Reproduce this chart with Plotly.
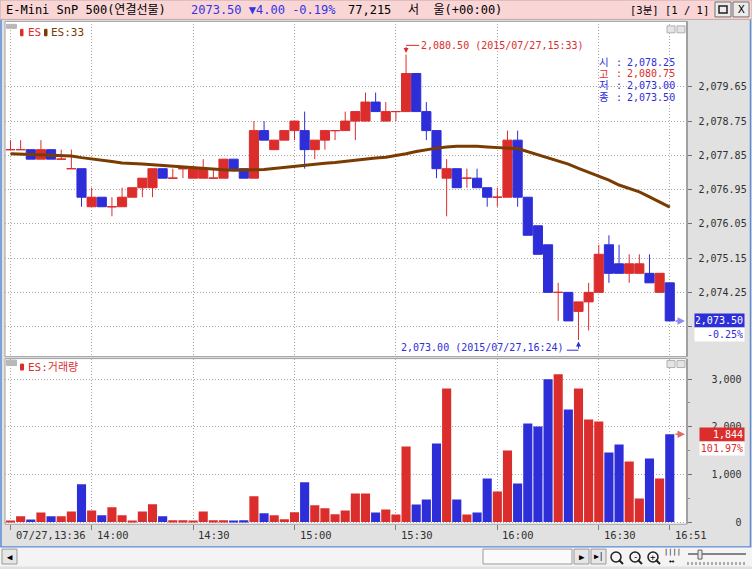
import plotly.graph_objects as go

W, H = 752, 569

# ---- 3분봉 데이터 ----
tick_idx = [0, 8, 18, 28, 38, 48, 58, 65]
tick_text = ["07/27,13:36", "14:00", "14:30", "15:00", "15:30", "16:00", "16:30", "16:51"]

opens = [2078.00, 2078.00, 2078.00, 2077.75, 2078.00, 2077.75, 2077.50, 2077.50, 2076.50, 2076.75,
         2076.50, 2076.50, 2076.75, 2077.00, 2077.00, 2077.50, 2077.25, 2077.50, 2077.25, 2077.25,
         2077.25, 2077.25, 2077.75, 2077.50, 2077.25, 2078.50, 2078.00, 2078.25, 2078.50, 2078.50,
         2078.00, 2078.25, 2078.50, 2078.50, 2078.75, 2078.75, 2079.25, 2078.75, 2079.00, 2079.00,
         2080.00, 2079.00, 2078.50, 2077.25, 2077.50, 2077.25, 2077.25, 2077.00, 2076.75, 2076.75,
         2078.25, 2076.75, 2076.00, 2075.50, 2074.25, 2074.25, 2073.75, 2074.00, 2074.25, 2075.50,
         2075.00, 2074.75, 2074.75, 2074.75, 2074.25, 2074.50]
highs = [2078.25, 2078.25, 2078.00, 2078.25, 2078.00, 2078.00, 2078.00, 2077.50, 2077.00, 2076.75,
         2076.75, 2077.00, 2077.00, 2077.25, 2077.50, 2077.50, 2077.50, 2077.50, 2077.50, 2077.75,
         2077.50, 2077.75, 2077.75, 2077.50, 2078.75, 2078.75, 2078.25, 2078.50, 2078.75, 2079.00,
         2078.25, 2078.50, 2078.50, 2079.00, 2079.00, 2079.50, 2079.50, 2079.25, 2079.00, 2080.50,
         2080.00, 2079.25, 2078.50, 2077.75, 2077.50, 2077.50, 2077.50, 2077.00, 2077.00, 2078.50,
         2078.50, 2076.75, 2076.00, 2075.50, 2074.50, 2074.25, 2074.00, 2074.50, 2075.50, 2075.75,
         2075.50, 2075.25, 2075.25, 2075.25, 2074.75, 2074.50]
lows = [2078.00, 2078.00, 2077.75, 2077.75, 2077.75, 2077.75, 2077.50, 2076.50, 2076.50, 2076.50,
        2076.25, 2076.50, 2076.75, 2076.75, 2076.75, 2077.25, 2077.25, 2077.25, 2077.25, 2077.25,
        2077.25, 2077.25, 2077.50, 2077.25, 2077.25, 2078.25, 2078.00, 2078.25, 2078.25, 2077.50,
        2077.75, 2078.00, 2078.25, 2078.50, 2078.25, 2078.75, 2079.00, 2078.75, 2078.75, 2079.00,
        2079.00, 2078.25, 2077.25, 2076.25, 2077.00, 2077.00, 2077.00, 2076.50, 2076.50, 2076.75,
        2076.50, 2075.75, 2075.25, 2074.25, 2073.50, 2073.50, 2073.00, 2073.25, 2074.25, 2074.50,
        2074.75, 2074.50, 2074.75, 2074.50, 2074.25, 2073.50]
closes = [2078.00, 2078.00, 2077.75, 2078.00, 2077.75, 2077.75, 2077.50, 2076.75, 2076.75, 2076.50,
          2076.50, 2076.75, 2077.00, 2077.25, 2077.50, 2077.25, 2077.25, 2077.50, 2077.50, 2077.50,
          2077.25, 2077.75, 2077.50, 2077.25, 2078.50, 2078.25, 2078.25, 2078.50, 2078.75, 2078.00,
          2078.25, 2078.50, 2078.50, 2078.75, 2079.00, 2079.25, 2079.00, 2079.00, 2079.00, 2080.00,
          2079.00, 2078.50, 2077.50, 2077.50, 2077.00, 2077.25, 2077.00, 2076.75, 2076.75, 2078.25,
          2076.75, 2075.75, 2075.25, 2074.25, 2074.25, 2073.50, 2074.00, 2074.25, 2075.25, 2074.75,
          2074.75, 2075.00, 2075.00, 2074.50, 2074.75, 2073.50]
ma33 = [2077.89, 2077.88, 2077.87, 2077.87, 2077.86, 2077.85, 2077.83, 2077.79, 2077.76, 2077.72,
        2077.69, 2077.65, 2077.64, 2077.62, 2077.60, 2077.58, 2077.56, 2077.54, 2077.52, 2077.50,
        2077.48, 2077.47, 2077.46, 2077.46, 2077.47, 2077.48, 2077.51, 2077.53, 2077.56, 2077.59,
        2077.62, 2077.64, 2077.66, 2077.69, 2077.73, 2077.76, 2077.78, 2077.80, 2077.84, 2077.89,
        2077.95, 2078.00, 2078.04, 2078.07, 2078.09, 2078.09, 2078.09, 2078.07, 2078.05, 2078.04,
        2078.03, 2077.95, 2077.86, 2077.78, 2077.71, 2077.62, 2077.51, 2077.41, 2077.32, 2077.20,
        2077.07, 2076.97, 2076.89, 2076.76, 2076.62, 2076.49]
volume = [20, 122, 52, 200, 122, 122, 220, 795, 242, 143,
          312, 143, 17, 220, 375, 122, 38, 38, 17, 220,
          38, 38, 17, 38, 543, 186, 143, 60, 207, 837,
          354, 291, 165, 242, 599, 599, 200, 263, 158, 1586,
          368, 473, 1649, 2805, 473, 158, 200, 914, 641, 1502,
          809, 2069, 2006, 2994, 3099, 2363, 2805, 2153, 2111, 1460,
          1628, 1271, 494, 1334, 914, 1844]

price_ticks = [2073.35, 2074.25, 2075.15, 2076.05, 2076.95, 2077.85, 2078.75, 2079.65]
price_labels = ["", "2,074.25", "2,075.15", "2,076.05", "2,076.95", "2,077.85", "2,078.75", "2,079.65"]
vol_ticks = [0, 1000, 2000, 3000]
vol_labels = ["0", "1,000", "2,000", "3,000"]

info_names = ["시", "고", "저", "종"]
info_values = ["2,078.25", "2,080.75", "2,073.00", "2,073.50"]

RED = "#dc2d2d"
BLUE = "#2e2ed8"
BROWN = "#7a3c00"
GRID = "#a8a8a8"
DOT = "1px,2px"
MONO = "DejaVu Sans Mono, Noto Sans CJK KR"


def px(x):
    return x / W


def py(y):
    return 1 - y / H


xs = list(range(len(opens)))
up = [c >= o for o, c in zip(opens, closes)]


def pick(vals, flag):
    return [v for v, u in zip(vals, up) if u == flag]


fig = go.Figure()

# 캔들 (양봉=빨강, 음봉=파랑)
for flag, col in [(True, RED), (False, BLUE)]:
    style = dict(line=dict(color=col, width=1), fillcolor=col)
    fig.add_trace(go.Candlestick(
        x=pick(xs, flag), open=pick(opens, flag), high=pick(highs, flag),
        low=pick(lows, flag), close=pick(closes, flag),
        increasing=style, decreasing=style, whiskerwidth=0,
        xaxis="x", yaxis="y", hoverinfo="skip"))

# 이동평균 33
fig.add_trace(go.Scatter(x=xs, y=ma33, mode="lines", line=dict(color=BROWN, width=3),
                         xaxis="x", yaxis="y", hoverinfo="skip"))

# 거래량
fig.add_trace(go.Bar(x=xs, y=volume, width=0.9,
                     marker=dict(color=[RED if u else BLUE for u in up], line=dict(width=0)),
                     xaxis="x2", yaxis="y2", hoverinfo="skip"))

x_range = [-0.543, 66.65]
axis_font = dict(family=MONO, size=10, color="#303030")

fig.update_layout(
    width=W, height=H, margin=dict(l=0, r=0, t=0, b=0),
    paper_bgcolor="#e1e1e1", plot_bgcolor="white", showlegend=False,
    boxgap=0.1, boxgroupgap=0, bargap=0.1,
    font=dict(family=MONO, size=10, color="#303030"),
    xaxis=dict(domain=[px(5), px(686.5)], range=x_range, anchor="y",
               tickvals=tick_idx, showticklabels=False, ticks="",
               showgrid=True, gridcolor=GRID, griddash=DOT, zeroline=False,
               rangeslider=dict(visible=False)),
    xaxis2=dict(domain=[px(5), px(686.5)], range=x_range, anchor="y2", matches="x",
                tickvals=tick_idx, showticklabels=False, ticks="outside", ticklen=5,
                tickcolor="#808080", showgrid=True, gridcolor=GRID, griddash=DOT,
                zeroline=False),
    yaxis=dict(domain=[py(358.5), py(21.5)], range=[2072.562, 2081.37], side="right",
               anchor="x", tickvals=price_ticks, ticktext=price_labels,
               ticks="outside", ticklen=4, tickcolor="#707070", ticklabelstandoff=5,
               tickfont=axis_font, showgrid=True, gridcolor=GRID, griddash=DOT,
               zeroline=False, showline=True, linecolor="#a0a0a0"),
    yaxis2=dict(domain=[py(527), py(360.5)], range=[-46, 3430], side="right",
                anchor="x2", tickvals=vol_ticks,
                ticktext=[t.rjust(5, "\u00a0") for t in vol_labels],
                ticks="outside", ticklen=4, tickcolor="#707070", ticklabelstandoff=18,
                tickfont=axis_font, showgrid=True, gridcolor=GRID, griddash=DOT,
                zeroline=False, showline=True, linecolor="#a0a0a0",
                minor=dict(dtick=500, ticks="outside", ticklen=2, tickcolor="#909090",
                           showgrid=False)),
)

shapes = []
ann = []


def rect(x0, y0, x1, y1, fill=None, line="#a0a0a0", lw=1):
    shapes.append(dict(type="rect", xref="paper", yref="paper",
                       x0=px(x0), x1=px(x1), y0=py(y1), y1=py(y0),
                       fillcolor=fill if fill else "rgba(0,0,0,0)",
                       line=dict(color=line, width=lw), layer="above"))


def text(x, y, s, color="#000", size=10, anchor="left", **kw):
    ann.append(dict(xref="paper", yref="paper", x=px(x), y=py(y), text=s,
                    showarrow=False, xanchor=anchor, yanchor="middle",
                    font=dict(family=MONO, size=size, color=color), **kw))


# 상단 타이틀 바
rect(0, 0, 752, 19.5, fill="#f9d5d5", line="#c9a8a8")
text(4, 10, "E-Mini SnP 500(연결선물)", size=12)
text(189, 10, "2073.50 ▼4.00 -0.19%", color="#3434e6", size=12)
text(346, 10, "77,215", size=12)
text(406, 10, "서\u00a0\u00a0울(+00:00)", size=12)
text(711, 10, "[3분] [1 / 1]", size=10.5, anchor="right")
rect(715, 2, 731, 17, fill="#ececec", line="#707070")
rect(719, 6, 727, 13, fill="#ececec", line="#202020", lw=1.5)
rect(733, 2, 749, 17, fill="#ececec", line="#707070")
text(741, 10, "X", size=11, anchor="center")

# 창 테두리
shapes.append(dict(type="path", xref="paper", yref="paper",
                   path=f"M {px(1)},{py(20)} L {px(1)},{py(550)} L {px(750.5)},{py(550)} L {px(750.5)},{py(20)}",
                   line=dict(color="#5b8ad6", width=1.5)))

# 패널 테두리
rect(5, 21.5, 686.5, 358.5, line="#a0a0a0")
rect(5, 360.5, 686.5, 527, line="#a0a0a0")

# 범례 (가격)
rect(6.5, 24.5, 16.5, 28.5, fill="#b8b8b8", line="#b8b8b8")
rect(20.5, 29.5, 23, 36, fill=RED, line=RED)
text(26, 32.5, "ES", color=RED, size=11)
rect(44.5, 29.5, 47, 36, fill=BROWN, line=BROWN)
text(49, 32.5, "ES:33", color=BROWN, size=11)
rect(667, 26, 675, 33, fill="#e4e4e4", line="#b0b0b0")
rect(677, 26, 685, 33, fill="#e4e4e4", line="#b0b0b0")

# 범례 (거래량)
rect(6.5, 362, 16.5, 367.5, fill="#b8b8b8", line="#b8b8b8")
rect(20.5, 366, 23.5, 372, fill=RED, line=RED)
text(26, 369, "ES:거래량", color=RED, size=11)
rect(667, 362.5, 675, 369.5, fill="#e4e4e4", line="#b0b0b0")
rect(677, 362.5, 685, 369.5, fill="#e4e4e4", line="#b0b0b0")

# 시고저종 정보
for k, (nm, val) in enumerate(zip(info_names, info_values)):
    col = RED if k == 1 else BLUE
    yy = 62.5 + 11.7 * k
    text(597, yy, nm, color=col, size=10.5)
    text(614, yy, ":", color=col, size=10)
    text(677, yy, val, color=col, size=10, anchor="right")

# 고가 / 저가 표시
hi_i = highs.index(max(highs))
lo_i = lows.index(min(lows))
hi_v, lo_v = highs[hi_i], lows[lo_i]
shapes.append(dict(type="line", xref="x", yref="y", x0=hi_i, x1=hi_i + 1.3,
                   y0=hi_v + 0.24, y1=hi_v + 0.24, line=dict(color=RED, width=1)))
ann.append(dict(xref="x", yref="y", x=hi_i, y=hi_v + 0.04, ax=hi_i, ay=hi_v + 0.24,
                axref="x", ayref="y", text="", showarrow=True, arrowhead=2,
                arrowsize=1, arrowwidth=1, arrowcolor=RED))
ann.append(dict(xref="x", yref="y", x=hi_i + 1.3, y=hi_v + 0.24, xanchor="left",
                yanchor="middle", showarrow=False, xshift=0,
                text=f"{hi_v:,.2f} (2015/07/27,15:33)",
                font=dict(family=MONO, size=10, color=RED)))

shapes.append(dict(type="line", xref="x", yref="y", x0=lo_i - 1.15, x1=lo_i,
                   y0=lo_v - 0.27, y1=lo_v - 0.27, line=dict(color=BLUE, width=1)))
ann.append(dict(xref="x", yref="y", x=lo_i, y=lo_v - 0.04, ax=lo_i, ay=lo_v - 0.27,
                axref="x", ayref="y", text="", showarrow=True, arrowhead=2,
                arrowsize=1, arrowwidth=1, arrowcolor=BLUE))
ann.append(dict(xref="x", yref="y", x=lo_i - 1.2, y=lo_v - 0.19, xanchor="right",
                yanchor="middle", showarrow=False,
                text=f"{lo_v:,.2f} (2015/07/27,16:24)",
                font=dict(family=MONO, size=10, color=BLUE)))

# 현재가 / 현재 거래량 표시
ann.append(dict(xref="x", yref="y", x=66.5, y=closes[-1], ax=-11, ay=0, text="",
                showarrow=True, arrowhead=2, arrowsize=1, arrowwidth=1.5,
                arrowcolor="#8a8af0"))
ann.append(dict(xref="paper", yref="y", x=px(745), y=closes[-1], xanchor="right",
                yanchor="middle", text=f"{closes[-1]:,.2f}", showarrow=False,
                bgcolor=BLUE, width=47, height=11, align="right", borderpad=1,
                font=dict(family=MONO, size=10, color="white")))
ann.append(dict(xref="paper", yref="y", x=px(745), y=closes[-1], yshift=-14,
                xanchor="right", yanchor="middle", text="-0.25%", showarrow=False,
                bgcolor="white", width=47, height=11, align="right", borderpad=1,
                font=dict(family=MONO, size=10, color=BLUE)))
ann.append(dict(xref="x2", yref="y2", x=66.5, y=volume[-1], ax=-11, ay=0, text="",
                showarrow=True, arrowhead=2, arrowsize=1, arrowwidth=1.5,
                arrowcolor="#e06a6a"))
ann.append(dict(xref="paper", yref="y2", x=px(745), y=volume[-1], xanchor="right",
                yanchor="middle", text=f"{volume[-1]:,}", showarrow=False,
                bgcolor=RED, width=42, height=11, align="right", borderpad=1,
                font=dict(family=MONO, size=10, color="white")))
ann.append(dict(xref="paper", yref="y2", x=px(745), y=volume[-1], yshift=-14,
                xanchor="right", yanchor="middle", text="101.97%", showarrow=False,
                bgcolor="white", width=42, height=11, align="right", borderpad=1,
                font=dict(family=MONO, size=10, color=RED)))

# 시간축 라벨
for i, t in zip(tick_idx, tick_text):
    ann.append(dict(xref="x2", yref="paper", x=i, y=py(538), xanchor="left",
                    yanchor="middle", xshift=3, text=t, showarrow=False,
                    font=dict(family=MONO, size=10.5, color="#303030")))

# 하단 스크롤바
rect(0, 551, 752, 569, fill="#f4f4f4", line="#f4f4f4")
rect(2, 552, 17, 567, fill="#e6e6e6", line="#9a9a9a")
text(9.5, 559.5, "◀", size=9, anchor="center")
rect(483, 552, 572, 567, fill="#fafafa", line="#9a9a9a")
rect(574, 552, 589, 567, fill="#e6e6e6", line="#9a9a9a")
text(581.5, 559.5, "▶", size=9, anchor="center")
rect(591, 552, 606, 567, fill="#e6e6e6", line="#9a9a9a")
text(598.5, 559.5, "▶|", size=8, anchor="center")
for cx, mark in [(616, ""), (635, "-"), (653, "+")]:
    shapes.append(dict(type="circle", xref="paper", yref="paper",
                       x0=px(cx - 5), x1=px(cx + 5), y0=py(565), y1=py(555),
                       line=dict(color="#202020", width=1.5)))
    shapes.append(dict(type="line", xref="paper", yref="paper",
                       x0=px(cx + 3), x1=px(cx + 7), y0=py(563), y1=py(567),
                       line=dict(color="#202020", width=2)))
    if mark:
        text(cx, 559.5, mark, size=9, anchor="center")
text(672, 555, "||||", size=7, anchor="center")
text(672, 564, "↔", size=9, anchor="center")
shapes.append(dict(type="line", xref="paper", yref="paper", x0=px(688), x1=px(746),
                   y0=py(557), y1=py(557), line=dict(color="#606060", width=1.5)))
rect(698, 553, 702, 562, fill="#e6e6e6", line="#606060")
shapes.append(dict(type="path", xref="paper", yref="paper",
                   path=" ".join(f"M {px(688 + 4 * k)},{py(568)} L {px(688 + 4 * k)},{py(565)}"
                                 for k in range(15)),
                   line=dict(color="#606060", width=1)))

fig.update_layout(shapes=shapes, annotations=ann)

# 페이지 여백 제거, 모드바 숨김
fig.write_html("out.html", config={"displayModeBar": False},
               post_script="document.body.style.margin='0';")
